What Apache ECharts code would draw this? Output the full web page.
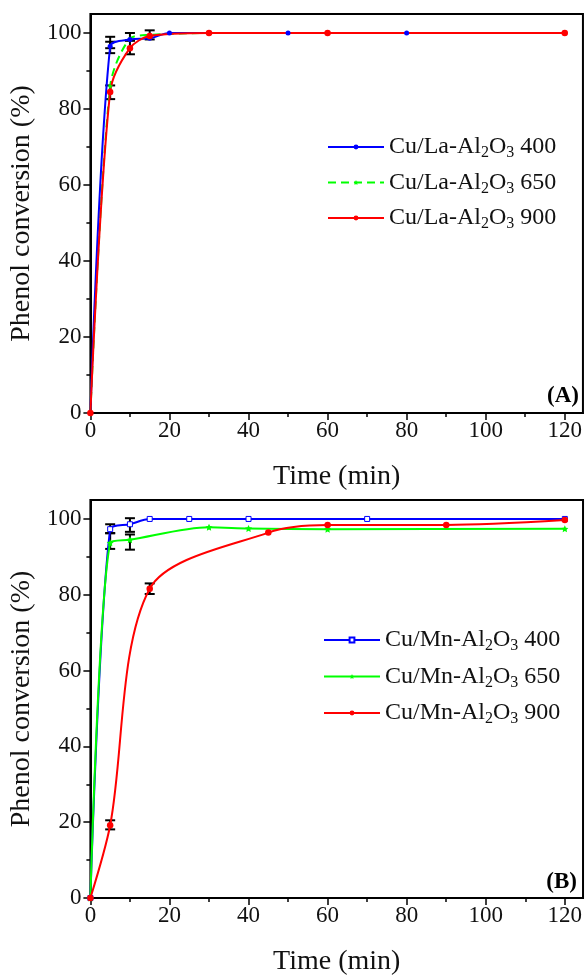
<!DOCTYPE html>
<html>
<head>
<meta charset="utf-8">
<script src="https://cdn.jsdelivr.net/npm/echarts@6/dist/echarts.min.js"></script>
<style>
html, body { margin: 0; padding: 0; background: #fff; }
#chart { width: 585px; height: 977px; }
</style>
</head>
<body>
<div id="chart"></div>
<script>
// panel A : Cu/La-Al2O3 catalysts  [time (min), conversion (%)]
var laNames = ['Cu/La-Al2O3 400', 'Cu/La-Al2O3 650', 'Cu/La-Al2O3 900'];
var la400 = [[0, 0], [5, 96.5], [10, 98.3], [15, 98.6], [20, 100], [50, 100], [80, 100], [120, 100]];
var la650 = [[0, 0], [5, 86], [10, 98.5], [15, 99.5], [30, 100], [60, 100], [120, 100]];
var la900 = [[0, 0], [5, 84.5], [10, 96], [15, 99.2], [30, 100], [60, 100], [120, 100]];
// error bars [time, value, +/-]
var laErr = [[5, 97.5, 1.5], [5, 96.2, 1.5], [5, 84.4, 1.8], [10, 99, 1], [10, 96.2, 1.8], [15, 99.5, 1.2]];

// panel B : Cu/Mn-Al2O3 catalysts
var mnNames = ['Cu/Mn-Al2O3 400', 'Cu/Mn-Al2O3 650', 'Cu/Mn-Al2O3 900'];
var mn400 = [[0, 0], [5, 97.3], [10, 98.6], [15, 100], [25, 100], [40, 100], [70, 100], [120, 100]];
var mn650 = [[0, 0], [5, 93.7], [10, 94.5], [30, 97.8], [40, 97.5], [60, 97.3], [120, 97.4]];
var mn900 = [[0, 0], [5, 19.2], [15, 81.6], [45, 96.4], [60, 98.4], [90, 98.4], [120, 99.7]];
var mnErr = [[5, 97.4, 1.2], [5, 94.2, 2.1], [5, 19.3, 1.2], [10, 98.4, 1.8], [10, 93.9, 2], [15, 81.6, 1.4]];

// ticks
var xMajor = [0, 20, 40, 60, 80, 100, 120];
var xMinor = [10, 30, 50, 70, 90, 110];
var yMajor = [0, 20, 40, 60, 80, 100];
var yMinor = [10, 30, 50, 70, 90];

var FONT = '"Liberation Serif", "Times New Roman", serif';
var STAR = 'path://M0,-10L2.9,-4L9.5,-3.1L4.8,1.5L5.9,8.1L0,5L-5.9,8.1L-4.8,1.5L-9.5,-3.1L-2.9,-4Z';

function xAxes(grid) {
    return [{
        gridIndex: grid, type: 'value', min: 0, max: 124.6, position: 'bottom',
        name: 'Time (min)', nameLocation: 'middle', nameGap: 50,
        nameTextStyle: { fontFamily: FONT, fontSize: 28, color: '#111' },
        axisLine: { lineStyle: { color: '#000', width: 2 } },
        axisTick: { customValues: xMajor, length: 7, lineStyle: { color: '#000', width: 1.5 } },
        axisLabel: { customValues: xMajor, fontFamily: FONT, fontSize: 23, color: '#111', margin: 6 },
        splitLine: { show: false }
    }, {
        gridIndex: grid, type: 'value', min: 0, max: 124.6, position: 'bottom',
        axisLine: { show: false },
        axisTick: { customValues: xMinor, length: 4, lineStyle: { color: '#000', width: 1.5 } },
        axisLabel: { show: false },
        splitLine: { show: false }
    }];
}

function yAxes(grid) {
    return [{
        gridIndex: grid, type: 'value', min: 0, max: 105, position: 'left',
        name: 'Phenol conversion (%)', nameLocation: 'middle', nameGap: 53,
        nameTextStyle: { fontFamily: FONT, fontSize: 28, color: '#111' },
        axisLine: { lineStyle: { color: '#000', width: 2 } },
        axisTick: { customValues: yMajor, length: 7, lineStyle: { color: '#000', width: 1.5 } },
        axisLabel: { customValues: yMajor, fontFamily: FONT, fontSize: 23, color: '#111', margin: 9 },
        splitLine: { show: false }
    }, {
        gridIndex: grid, type: 'value', min: 0, max: 105, position: 'left',
        axisLine: { show: false },
        axisTick: { customValues: yMinor, length: 4, lineStyle: { color: '#000', width: 1.5 } },
        axisLabel: { show: false },
        splitLine: { show: false }
    }];
}

function lineSeries(name, data, color, grid, symbol, size, dashed, fill) {
    return {
        type: 'line', name: name, data: data,
        xAxisIndex: grid * 2, yAxisIndex: grid * 2,
        smooth: 0.3, clip: false,
        symbol: symbol, symbolSize: size, showAllSymbol: true,
        lineStyle: { color: color, width: 2, type: dashed ? [8, 5] : 'solid' },
        itemStyle: { color: fill || color, borderColor: color, borderWidth: fill ? 1 : 0 },
        z: 3
    };
}

function errSeries(data, grid) {
    return {
        type: 'custom', data: data, silent: true, z: 2,
        xAxisIndex: grid * 2, yAxisIndex: grid * 2,
        encode: { x: 0, y: 1 },
        renderItem: function (params, api) {
            var x = api.value(0), v = api.value(1), e = api.value(2);
            var hi = api.coord([x, v + e]);
            var lo = api.coord([x, v - e]);
            var w = 5;
            var st = { stroke: '#000', lineWidth: 2 };
            return {
                type: 'group', children: [
                    { type: 'line', shape: { x1: hi[0], y1: hi[1], x2: lo[0], y2: lo[1] }, style: st },
                    { type: 'line', shape: { x1: hi[0] - w, y1: hi[1], x2: hi[0] + w, y2: hi[1] }, style: st },
                    { type: 'line', shape: { x1: lo[0] - w, y1: lo[1], x2: lo[0] + w, y2: lo[1] }, style: st }
                ]
            };
        }
    };
}

function legendBox(names, left, top, gap) {
    return {
        data: names, orient: 'vertical', left: left, top: top, padding: 0,
        itemWidth: 56, itemHeight: 6, itemGap: gap,
        selectedMode: false,
        formatter: function (n) { return n.replace('Al2O3', 'Al{s|2}O{s|3}'); },
        textStyle: {
            fontFamily: FONT, fontSize: 24, color: '#111', lineHeight: 28,
            rich: { s: { fontFamily: FONT, fontSize: 16, lineHeight: 9, verticalAlign: 'bottom', color: '#111' } }
        }
    };
}

var option = {
    animation: false,
    backgroundColor: '#fff',
    grid: [
        { left: 90, top: 14, right: 1, bottom: 564, show: true, borderColor: '#000', borderWidth: 2 },
        { left: 88, top: 500, right: 1, bottom: 76, show: true, borderColor: '#000', borderWidth: 2 }
    ],
    xAxis: xAxes(0).concat(xAxes(1)),
    yAxis: yAxes(0).concat(yAxes(1)),
    legend: [legendBox(laNames, 327, 133, 7.5), legendBox(mnNames, 323, 626, 8.5)],
    series: [
        errSeries(laErr, 0),
        lineSeries(laNames[1], la650, '#00ff00', 0, STAR, 5, true),
        lineSeries(laNames[0], la400, '#0000ff', 0, 'circle', 5),
        lineSeries(laNames[2], la900, '#ff0000', 0, 'circle', 6.5),
        errSeries(mnErr, 1),
        lineSeries(mnNames[0], mn400, '#0000ff', 1, 'rect', 5, false, '#ffffff'),
        lineSeries(mnNames[1], mn650, '#00ff00', 1, STAR, 7),
        lineSeries(mnNames[2], mn900, '#ff0000', 1, 'circle', 6.5)
    ],
    graphic: [
        { type: 'text', right: 6, top: 385, style: { text: '(A)', font: 'bold 23px ' + FONT, fill: '#000' } },
        { type: 'text', right: 8, top: 871, style: { text: '(B)', font: 'bold 23px ' + FONT, fill: '#000' } }
    ]
};

var myChart = echarts.init(document.getElementById('chart'), null, { renderer: 'canvas' });
myChart.setOption(option);
</script>
</body>
</html>
